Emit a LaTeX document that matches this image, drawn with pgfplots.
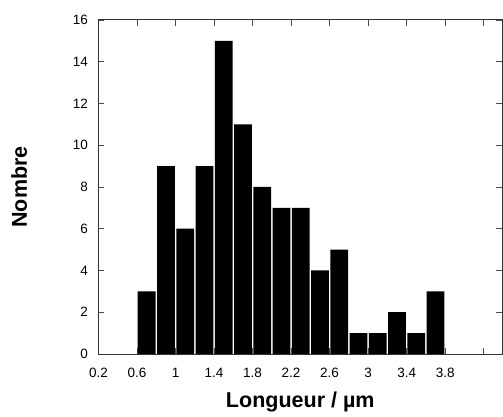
\documentclass[border=0pt]{standalone}
\usepackage{pgfplots}
\pgfplotsset{compat=1.18}
\usepackage{fontspec}
\setmainfont{Liberation Sans}
\begin{document}
\begin{tikzpicture}
\useasboundingbox (0,0) rectangle (503bp,417bp);
\begin{axis}[
  at={(98.5bp,63bp)}, anchor=south west,
  scale only axis,
  width=403.5bp, height=334bp,
  xmin=0.2, xmax=4.39, ymin=0, ymax=16,
  xtick={0.2,0.6,1.0,1.4,1.8,2.2,2.6,3.0,3.4,3.8,4.2},
  xticklabels={0.2,0.6,1,1.4,1.8,2.2,2.6,3,3.4,3.8,},
  ytick={0,2,4,6,8,10,12,14,16},
  tick align=inside,
  major tick length=6bp,
  tick style={line width=0.8bp, black!70},
  axis line style={line width=1bp, black!80},
  ticklabel style={font=\fontsize{13.5bp}{15bp}\selectfont},
  /pgf/number format/assume math mode=true,
  xticklabel style={yshift=-11bp},
  yticklabel style={xshift=-7bp},
  xlabel={\textbf{Longueur / µm}},
  ylabel={\textbf{Nombre}},
  label style={font=\fontsize{21.5bp}{24bp}\selectfont},
  xlabel style={yshift=-7bp},
  ylabel style={yshift=39bp},
]
\addplot[ybar, bar width=0.185, fill=black, draw=none] coordinates {
  (0.7,3) (0.9,9) (1.1,6) (1.3,9) (1.5,15) (1.7,11) (1.9,8) (2.1,7)
  (2.3,7) (2.5,4) (2.7,5) (2.9,1) (3.1,1) (3.3,2) (3.5,1) (3.7,3)
};
\end{axis}
\end{tikzpicture}
\end{document}
